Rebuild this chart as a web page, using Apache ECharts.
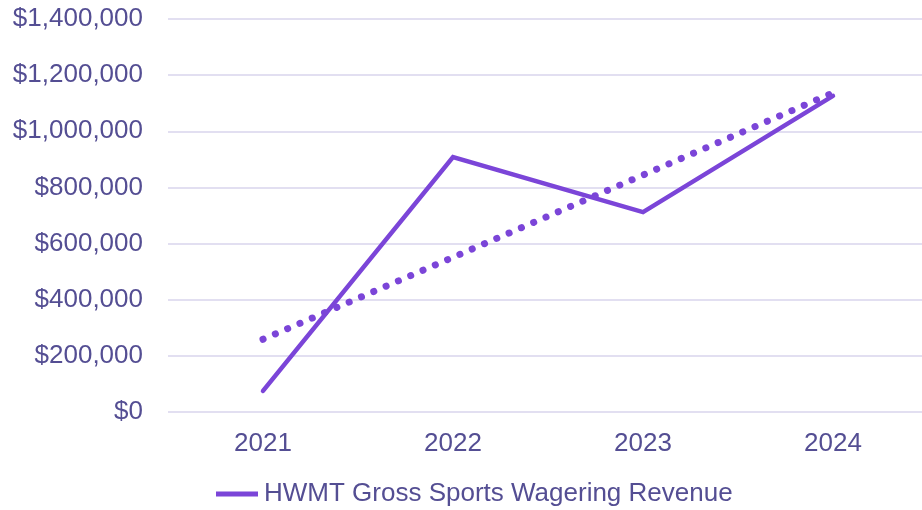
<!DOCTYPE html>
<html>
<head>
<meta charset="utf-8">
<script src="https://cdn.jsdelivr.net/npm/echarts@6/dist/echarts.min.js"></script>
<style>
    html, body { margin: 0; padding: 0; background: #fff; overflow: hidden; }
    #chart { width: 930px; height: 510px; }
</style>
</head>
<body>
<div id="chart"></div>
<script>
    var years = ['2021', '2022', '2023', '2024'];
    var revenue = [75000, 908000, 712000, 1126000];
    // trendline
    var trend = [259000, 551000, 844000, 1137000];
    var yTicks = [0, 200000, 400000, 600000, 800000, 1000000, 1200000, 1400000];

    var textColor = '#544E93';
    var lineColor = '#7B45D8';

    function money(v){
        return '$' + String(v).replace(/\B(?=(\d{3})+(?!\d))/g, ',');
    }

    var chart = echarts.init(document.getElementById('chart'));
    chart.setOption({
        animation: false,
        textStyle: { fontFamily: 'Liberation Sans, Arial, sans-serif' },
        grid: { left: 168, top: 19, width: 760, height: 393, containLabel: false },
        legend: {
            top: 476,
            left: 211,
            data: [{ name: 'HWMT Gross Sports Wagering Revenue', icon: 'rect' }],
            itemWidth: 42,
            itemHeight: 5,
            itemGap: 10,
            textStyle: { color: textColor, fontSize: 26, padding: [0, 0, 0, 1] }
        },
        xAxis: {
            type: 'category',
            data: years,
            boundaryGap: true,
            axisLine: { show: false },
            axisTick: { show: false },
            axisLabel: { color: textColor, fontSize: 26, margin: 19 }
        },
        yAxis: {
            type: 'value',
            min: yTicks[0],
            max: yTicks[yTicks.length - 1],
            interval: 200000,
            axisLine: { show: false },
            axisTick: { show: false },
            splitLine: { lineStyle: { color: '#D9D5EC', width: 1.5 } },
            axisLabel: { color: textColor, fontSize: 26, margin: 25, formatter: money }
        },
        series: [
            {
                name: 'HWMT Gross Sports Wagering Revenue',
                type: 'line',
                data: revenue,
                symbol: 'none',
                lineStyle: { color: lineColor, width: 4.5, cap: 'round', join: 'miter' },
                itemStyle: { color: lineColor }
            },
            {
                name: 'trend',
                type: 'line',
                data: trend,
                symbol: 'none',
                z: 1,
                lineStyle: { color: lineColor, width: 7, type: [0.1, 13.3], cap: 'round' },
                itemStyle: { color: lineColor }
            }
        ]
    });
</script>
</body>
</html>
